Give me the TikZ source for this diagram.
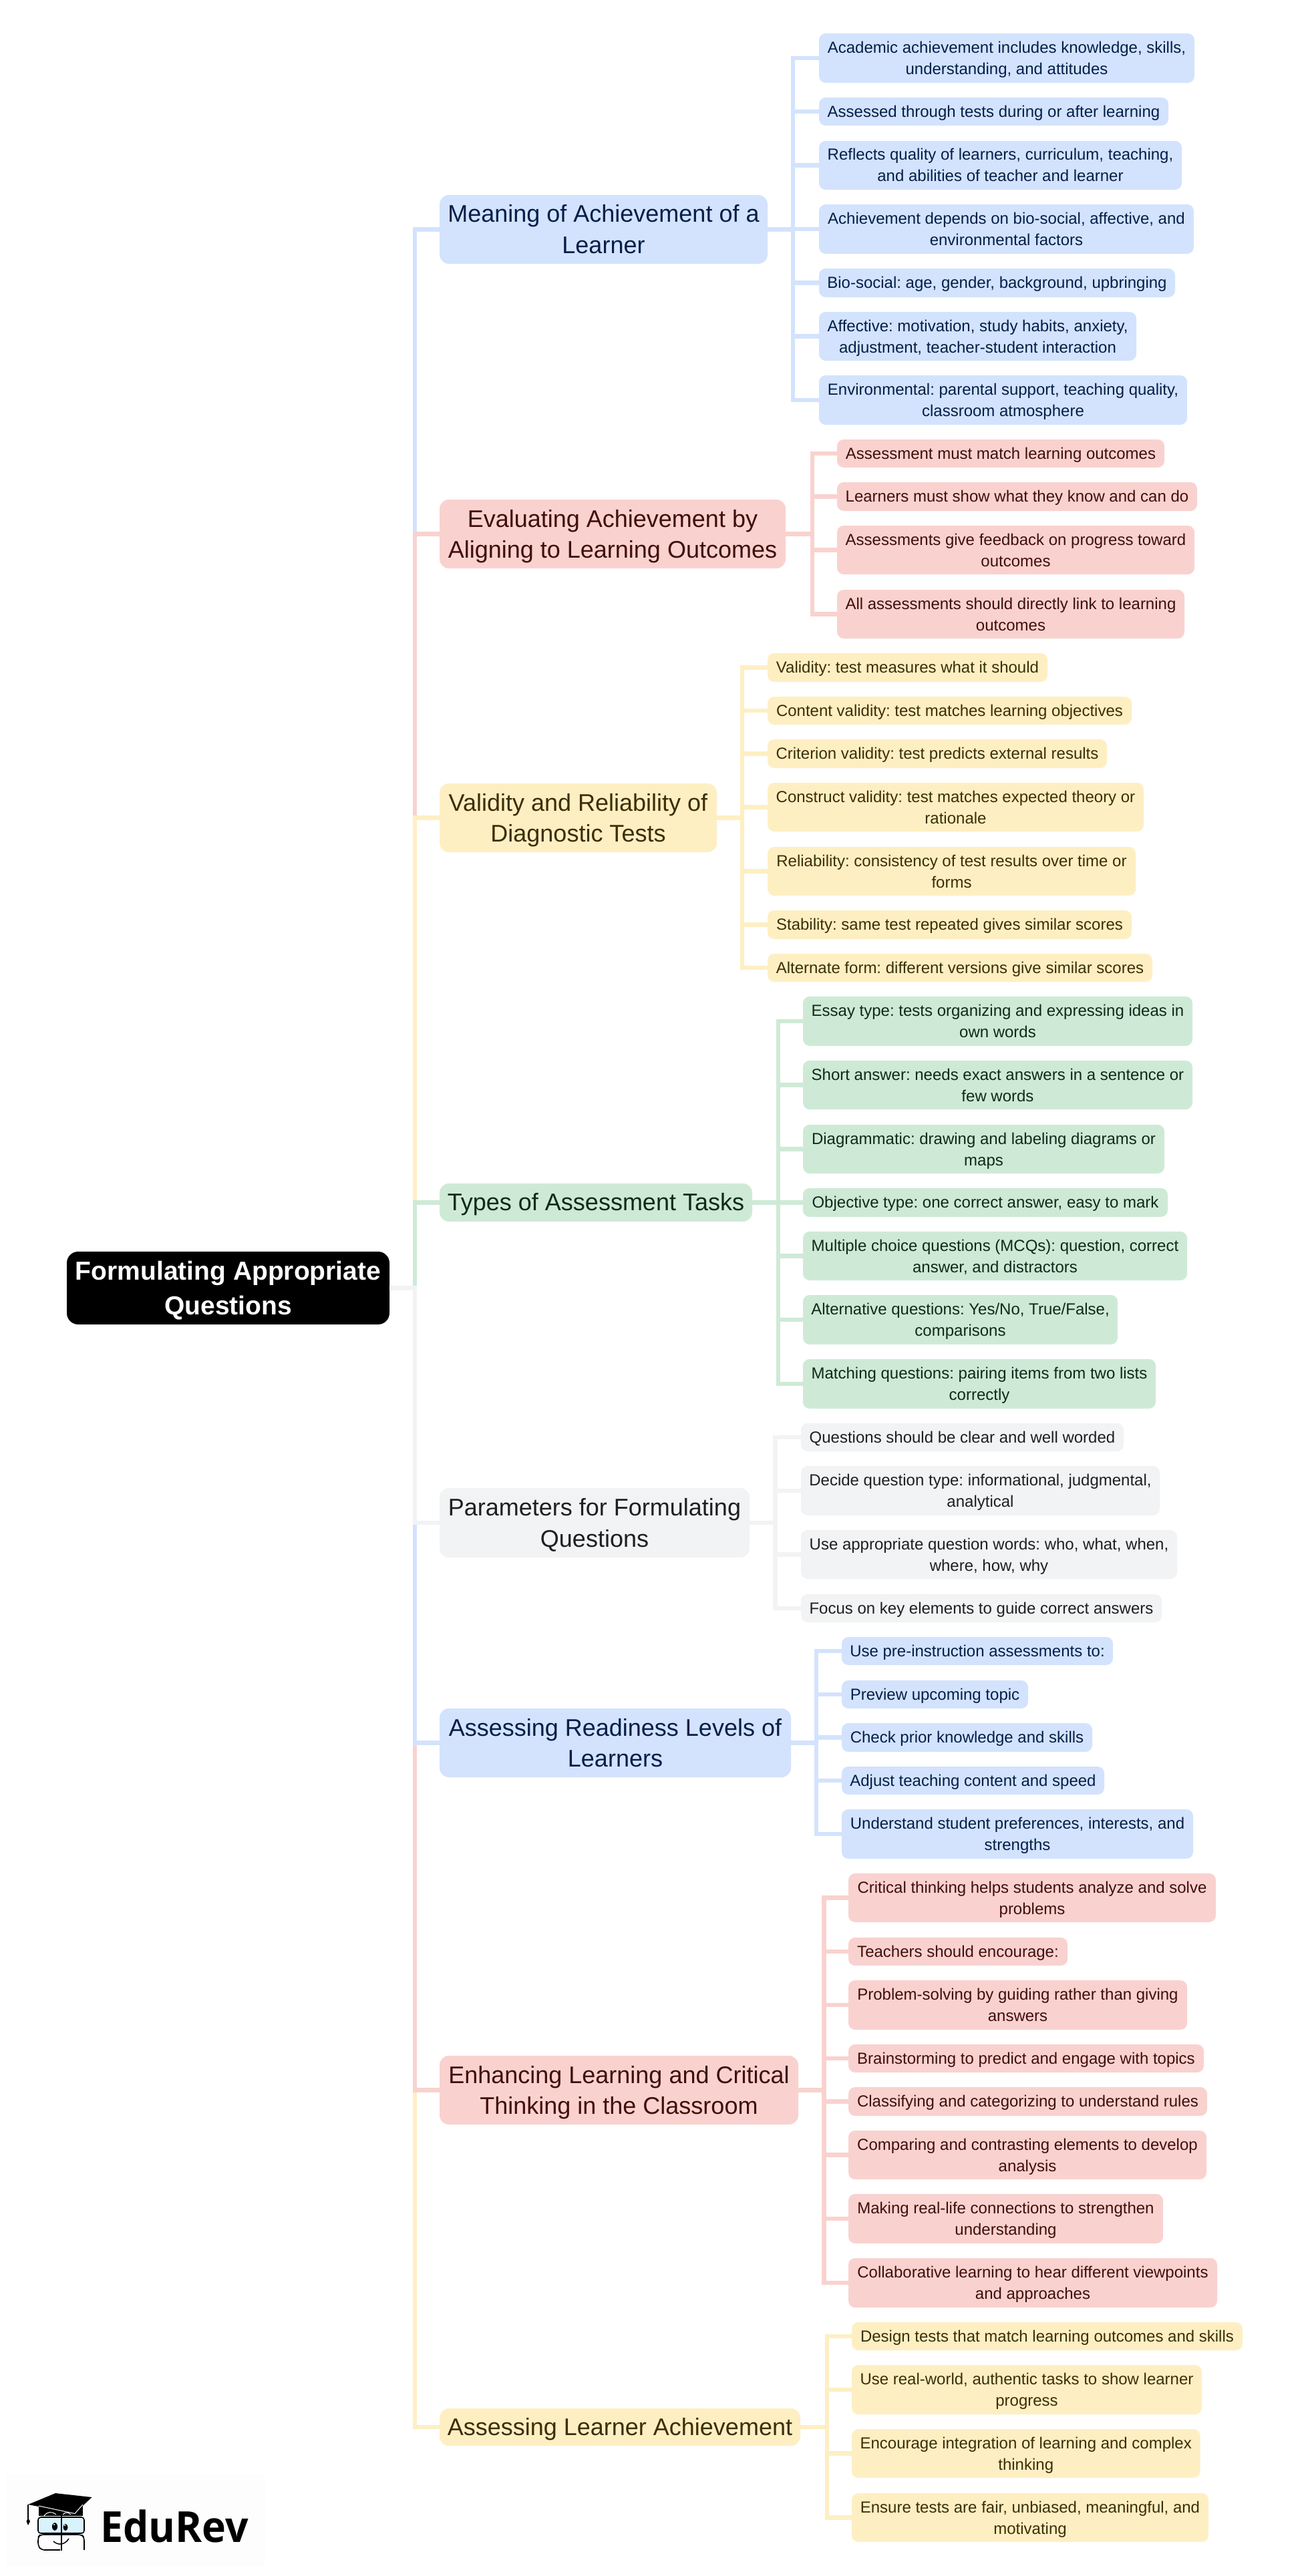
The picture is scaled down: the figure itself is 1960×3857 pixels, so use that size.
\documentclass[tikz,border=0pt]{standalone}
\usepackage{fontspec}
\setmainfont{Liberation Sans}
\newfontfamily\logofont{Open Sans}
\definecolor{bF}{HTML}{D3E3FD}\definecolor{bT}{HTML}{041E49}
\definecolor{rF}{HTML}{F9D2CF}\definecolor{rT}{HTML}{410E0B}
\definecolor{yF}{HTML}{FEEFC3}\definecolor{yT}{HTML}{3C2E05}
\definecolor{gF}{HTML}{CEEAD6}\definecolor{gT}{HTML}{0D2B18}
\definecolor{kF}{HTML}{F1F3F4}\definecolor{kT}{HTML}{1F1F1F}
\newcommand{\lst}{\rule[-.212em]{0pt}{1.117em}}
\newcommand{\nl}{\rule{0pt}{.92em}\\\lst}
\tikzset{
  boxnode/.style={inner sep=0pt,outer sep=0pt,align=center,execute at begin node={\frenchspacing\lst}},
  leafb/.style={boxnode,rounded corners=10pt,font=\fontsize{24}{32}\selectfont},
  mainb/.style={boxnode,rounded corners=14pt,font=\fontsize{36}{46.5}\selectfont},
  fb/.style={fill=bF,text=bT},fr/.style={fill=rF,text=rT},fy/.style={fill=yF,text=yT},fg/.style={fill=gF,text=gT},fk/.style={fill=kF,text=kT},
  link/.style={draw=#1,line width=6.5pt,line join=miter,line cap=butt},
  rootb/.style={boxnode,fill=black,text=white,rounded corners=17pt,font=\fontsize{39}{52}\selectfont\bfseries},
}
\newcommand{\bx}[7]{\node[#1,#2,minimum width={(#4-#3)*1pt},minimum height={(#6-#5)*1pt}] (#7) at ({(#3+#4)/2},{(#5+#6)/2})}
\newcommand{\lnk}[4]{\draw[link=#1] (#2.east) -- (#3) |- (#4.west);}
\begin{document}
\begin{tikzpicture}[x=1pt,y=-1pt]
\useasboundingbox (0,0) rectangle (1960,3857);
\fill[white] (0,0) rectangle (1960,3857);
% root
\bx{rootb}{}{100}{583}{1874}{1983}{root} {Formulating Appropriate\nl Questions};
% main
\bx{mainb}{fb}{658}{1149}{292}{395}{m1} {Meaning of Achievement of a\nl Learner};
\bx{mainb}{fr}{658}{1176}{748}{851}{m2} {Evaluating Achievement by\nl Aligning to Learning Outcomes};
\bx{mainb}{fy}{658}{1073}{1173}{1276}{m3} {Validity and Reliability of\nl Diagnostic Tests};
\bx{mainb}{fg}{658}{1126}{1772}{1829}{m4} {Types of Assessment Tasks};
\bx{mainb}{fk}{658}{1122}{2228}{2332}{m5} {Parameters for Formulating\nl Questions};
\bx{mainb}{fb}{658}{1184}{2558}{2661}{m6} {Assessing Readiness Levels of\nl Learners};
\bx{mainb}{fr}{658}{1195}{3078}{3181}{m7} {Enhancing Learning and Critical\nl Thinking in the Classroom};
\bx{mainb}{fy}{658}{1198}{3606}{3662}{m8} {Assessing Learner Achievement};
% group 1
\bx{leafb}{fb}{1226}{1788}{50}{124}{a1} {Academic achievement includes knowledge, skills,\nl understanding, and attitudes};
\bx{leafb}{fb}{1226}{1749}{146}{188}{a2} {Assessed through tests during or after learning};
\bx{leafb}{fb}{1226}{1769}{211}{284}{a3} {Reflects quality of learners, curriculum, teaching,\nl and abilities of teacher and learner};
\bx{leafb}{fb}{1226}{1787}{306}{380}{a4} {Achievement depends on bio-social, affective, and\nl environmental factors};
\bx{leafb}{fb}{1226}{1759}{402}{445}{a5} {Bio-social: age, gender, background, upbringing};
\bx{leafb}{fb}{1226}{1701}{467}{540}{a6} {Affective: motivation, study habits, anxiety,\nl adjustment, teacher-student interaction};
\bx{leafb}{fb}{1226}{1777}{562}{636}{a7} {Environmental: parental support, teaching quality,\nl classroom atmosphere};
% group 2
\bx{leafb}{fr}{1253}{1743}{658}{700}{b1} {Assessment must match learning outcomes};
\bx{leafb}{fr}{1253}{1792}{722}{765}{b2} {Learners must show what they know and can do};
\bx{leafb}{fr}{1253}{1788}{787}{860}{b3} {Assessments give feedback on progress toward\nl outcomes};
\bx{leafb}{fr}{1253}{1773}{883}{956}{b4} {All assessments should directly link to learning\nl outcomes};
% group 3
\bx{leafb}{fy}{1149}{1568}{978}{1021}{c1} {Validity: test measures what it should};
\bx{leafb}{fy}{1149}{1694}{1043}{1085}{c2} {Content validity: test matches learning objectives};
\bx{leafb}{fy}{1149}{1657}{1107}{1150}{c3} {Criterion validity: test predicts external results};
\bx{leafb}{fy}{1149}{1712}{1172}{1245}{c4} {Construct validity: test matches expected theory or\nl rationale};
\bx{leafb}{fy}{1149}{1700}{1268}{1341}{c5} {Reliability: consistency of test results over time or\nl forms};
\bx{leafb}{fy}{1149}{1694}{1363}{1406}{c6} {Stability: same test repeated gives similar scores};
\bx{leafb}{fy}{1149}{1725}{1428}{1470}{c7} {Alternate form: different versions give similar scores};
% group 4
\bx{leafb}{fg}{1202}{1785}{1492}{1566}{d1} {Essay type: tests organizing and expressing ideas in\nl own words};
\bx{leafb}{fg}{1202}{1785}{1588}{1661}{d2} {Short answer: needs exact answers in a sentence or\nl few words};
\bx{leafb}{fg}{1202}{1743}{1684}{1757}{d3} {Diagrammatic: drawing and labeling diagrams or\nl maps};
\bx{leafb}{fg}{1202}{1748}{1779}{1822}{d4} {Objective type: one correct answer, easy to mark};
\bx{leafb}{fg}{1202}{1777}{1844}{1917}{d5} {Multiple choice questions (MCQs): question, correct\nl answer, and distractors};
\bx{leafb}{fg}{1202}{1673}{1939}{2013}{d6} {Alternative questions: Yes/No, True/False,\nl comparisons};
\bx{leafb}{fg}{1202}{1730}{2035}{2109}{d7} {Matching questions: pairing items from two lists\nl correctly};
% group 5
\bx{leafb}{fk}{1199}{1682}{2131}{2173}{e1} {Questions should be clear and well worded};
\bx{leafb}{fk}{1199}{1736}{2195}{2269}{e2} {Decide question type: informational, judgmental,\nl analytical};
\bx{leafb}{fk}{1199}{1762}{2291}{2364}{e3} {Use appropriate question words: who, what, when,\nl where, how, why};
\bx{leafb}{fk}{1199}{1739}{2387}{2429}{e4} {Focus on key elements to guide correct answers};
% group 6
\bx{leafb}{fb}{1260}{1666}{2451}{2493}{f1} {Use pre-instruction assessments to:};
\bx{leafb}{fb}{1260}{1539}{2516}{2558}{f2} {Preview upcoming topic};
\bx{leafb}{fb}{1260}{1635}{2580}{2623}{f3} {Check prior knowledge and skills};
\bx{leafb}{fb}{1260}{1653}{2645}{2687}{f4} {Adjust teaching content and speed};
\bx{leafb}{fb}{1260}{1786}{2709}{2783}{f5} {Understand student preferences, interests, and\nl strengths};
% group 7
\bx{leafb}{fr}{1270}{1820}{2805}{2878}{g1} {Critical thinking helps students analyze and solve\nl problems};
\bx{leafb}{fr}{1270}{1598}{2901}{2943}{g2} {Teachers should encourage:};
\bx{leafb}{fr}{1270}{1777}{2965}{3039}{g3} {Problem-solving by guiding rather than giving\nl answers};
\bx{leafb}{fr}{1270}{1802}{3061}{3103}{g4} {Brainstorming to predict and engage with topics};
\bx{leafb}{fr}{1270}{1807}{3125}{3168}{g5} {Classifying and categorizing to understand rules};
\bx{leafb}{fr}{1270}{1806}{3190}{3263}{g6} {Comparing and contrasting elements to develop\nl analysis};
\bx{leafb}{fr}{1270}{1741}{3285}{3359}{g7} {Making real-life connections to strengthen\nl understanding};
\bx{leafb}{fr}{1270}{1822}{3381}{3455}{g8} {Collaborative learning to hear different viewpoints\nl and approaches};
% group 8
\bx{leafb}{fy}{1275}{1860}{3477}{3519}{h1} {Design tests that match learning outcomes and skills};
\bx{leafb}{fy}{1275}{1799}{3541}{3615}{h2} {Use real-world, authentic tasks to show learner\nl progress};
\bx{leafb}{fy}{1275}{1796.5}{3637}{3710}{h3} {Encourage integration of learning and complex\nl thinking};
\bx{leafb}{fy}{1275}{1809}{3733}{3806}{h4} {Ensure tests are fair, unbiased, meaningful, and\nl motivating};
% bus points
\coordinate (tr) at (621,1928.5);
\coordinate (ba) at (1187,343.5);
\coordinate (bb) at (1216,799.5);
\coordinate (bc) at (1111,1224.5);
\coordinate (bd) at (1165,1800.5);
\coordinate (be) at (1160.5,2280);
\coordinate (bf) at (1222,2609.5);
\coordinate (bg) at (1233.5,3129.5);
\coordinate (bh) at (1238,3634);
% trunk: upper half top-down, lower half bottom-up
\lnk{bF}{root}{tr}{m1}
\lnk{rF}{root}{tr}{m2}
\lnk{yF}{root}{tr}{m3}
\lnk{gF}{root}{tr}{m4}
\lnk{yF}{root}{tr}{m8}
\lnk{rF}{root}{tr}{m7}
\lnk{bF}{root}{tr}{m6}
\lnk{kF}{root}{tr}{m5}
% leaf links
\foreach \c in {a1,a2,a3,a4,a5,a6,a7}{\lnk{bF}{m1}{ba}{\c}}
\foreach \c in {b1,b2,b3,b4}{\lnk{rF}{m2}{bb}{\c}}
\foreach \c in {c1,c2,c3,c4,c5,c6,c7}{\lnk{yF}{m3}{bc}{\c}}
\foreach \c in {d1,d2,d3,d4,d5,d6,d7}{\lnk{gF}{m4}{bd}{\c}}
\foreach \c in {e1,e2,e3,e4}{\lnk{kF}{m5}{be}{\c}}
\foreach \c in {f1,f2,f3,f4,f5}{\lnk{bF}{m6}{bf}{\c}}
\foreach \c in {g1,g2,g3,g4,g5,g6,g7,g8}{\lnk{rF}{m7}{bg}{\c}}
\foreach \c in {h1,h2,h3,h4}{\lnk{yF}{m8}{bh}{\c}}
% logo
\fill[black!0.6] (10,3705) rectangle (397,3842);
\node[inner sep=0pt,anchor=base west,xscale=0.95,font=\logofont\bfseries\fontsize{64}{64}\selectfont,text=black] (logotext) at (150,3806) {EduRev};
\fill[black] (58,3752) -- (124,3752) -- (124,3767) -- (58,3767) -- cycle;
\draw[white,line width=1pt] (66,3767) .. controls (71,3760) and (78,3760) .. (84,3765);
\draw[white,line width=1pt] (94,3765) .. controls (98,3761) and (102,3761) .. (106,3765);
\fill[black] (42,3750) -- (83,3733) -- (137.5,3739) -- (112,3763) -- cycle;
\draw[white,line width=1pt] (58,3752) -- (112,3763.5) -- (124,3750);
\draw[black,line width=1.5pt] (42,3750) -- (42,3771);
\fill[black] (42,3770) -- (45,3775) -- (42,3781) -- (39.5,3775) -- cycle;
\draw[black,line width=1.6pt,fill=cyan!15,rounded corners=4pt] (57,3769) rectangle (126,3793);
\draw[black,line width=1.6pt,rounded corners=5pt] (90,3818) -- (62,3818) -- (57,3812) -- (57,3799) -- (60,3795) -- (122,3795) -- (126,3799) -- (126,3818);
\draw[black,line width=2pt] (91.5,3767) -- (91.5,3819);
\fill[black] (82,3783) ellipse (4pt and 6pt);
\fill[black] (98,3784) ellipse (3.5pt and 5pt);
\fill[white] (81,3780) circle (1.2pt);
\fill[white] (97,3781) circle (1.2pt);
\draw[black,line width=1.5pt] (80,3805) .. controls (86,3811) and (97,3811) .. (103,3801);
\end{tikzpicture}
\end{document}
